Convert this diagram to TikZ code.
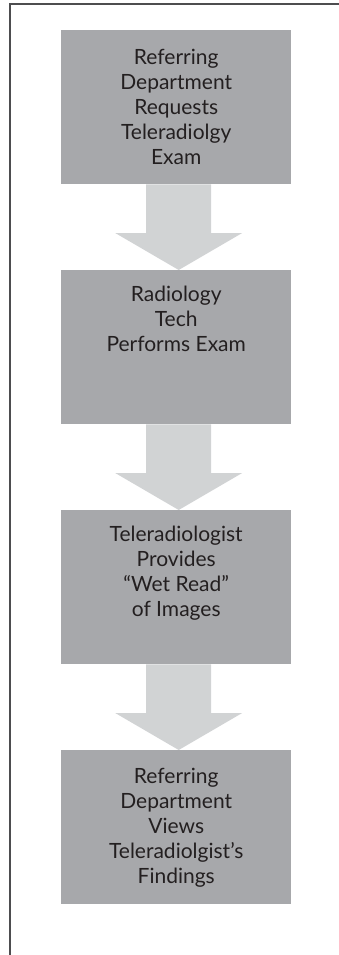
\documentclass[tikz,border=0pt]{standalone}
\usepackage{fontspec}
\setmainfont{Lato}
\usetikzlibrary{calc}
\definecolor{boxgray}{HTML}{A7A8AB}
\definecolor{arrowgray}{HTML}{D1D3D4}
\definecolor{textdark}{HTML}{231F20}
\definecolor{framegray}{HTML}{4D4D4F}
\tikzset{
  stepbox/.style={rectangle, fill=boxgray, inner sep=0pt, anchor=north west, text=textdark},
  flowarrow/.style={fill=arrowgray},
  frameline/.style={draw=framegray, line width=1.8pt}
}
\newcommand{\boxtext}[2]{\parbox[t][154pt][t]{230pt}{\centering\fontsize{21}{25}\selectfont\vspace*{#1}#2\par}}
\begin{document}
\begin{tikzpicture}[x=1pt, y=-1pt]
\useasboundingbox (0,0) rectangle (339,955);
\coordinate (ftop) at (339,4);
\coordinate (fcorner) at (10,4);
\coordinate (fbot) at (10,955);
\draw[frameline] (ftop) -- (fcorner) -- (fbot);
\node[stepbox] (b1) at (61,30) {\boxtext{19pt}{Referring\\Department\\Requests\\Teleradiolgy\\Exam}};
\node[stepbox] (b2) at (61,270) {\boxtext{16pt}{Radiology\\Tech\\Performs Exam}};
\node[stepbox] (b3) at (61,510) {\boxtext{16pt}{Teleradiologist\\Provides\\“Wet Read”\\of Images}};
\node[stepbox] (b4) at (61,750) {\boxtext{18pt}{Referring\\Department\\Views\\Teleradiolgist’s\\Findings}};
\foreach \a/\b in {b1/b2, b2/b3, b3/b4} {
  \fill[flowarrow]
    ($(\a.south)+(-30,0)$) -- ($(\a.south)+(35,0)$) --
    ($(\b.north)+(35,-37)$) -- ($(\b.north)+(66,-37)$) --
    ($(\b.north)+(2.5,0)$) --
    ($(\b.north)+(-61,-37)$) -- ($(\b.north)+(-30,-37)$) -- cycle;
}
\end{tikzpicture}
\end{document}
